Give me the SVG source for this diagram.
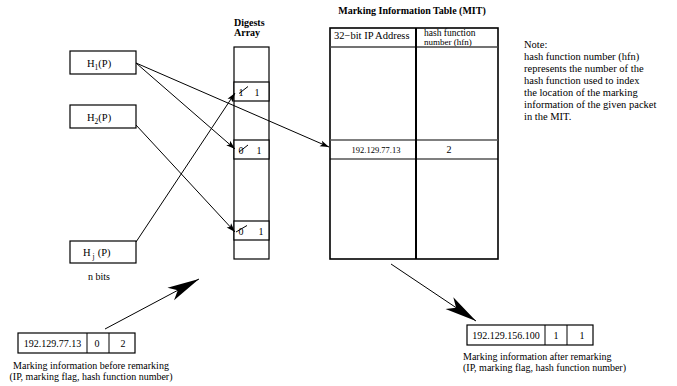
<svg xmlns="http://www.w3.org/2000/svg" width="677" height="386" viewBox="0 0 677 386">
<style>
text{font-family:"Liberation Serif","Times New Roman",serif;fill:#000}
.t{font-size:10.5px}
.s{font-size:10px}
.n{font-size:10.5px}
.b{font-weight:bold;font-size:10px}
.box{fill:#fff;stroke:#000;stroke-width:1.2}
.ln{fill:none;stroke:#000;stroke-width:1}
.mit{fill:#fff;stroke:#000;stroke-width:1.6}
</style>
<defs>
<marker id="sa" viewBox="-10 -4 11 8" refX="0" refY="0" markerWidth="11" markerHeight="8" markerUnits="userSpaceOnUse" orient="auto" overflow="visible">
<path d="M0,0 L-9,-3 L-7,0 L-9,3 Z" fill="#000"/>
</marker>
<marker id="ba" viewBox="-33 -8 34 16" refX="0" refY="0" markerWidth="34" markerHeight="16" markerUnits="userSpaceOnUse" orient="auto" overflow="visible">
<path d="M0,0 L-32,-7 L-24,0 L-32,7 Z" fill="#000"/>
</marker>
</defs>

<g id="h1">
<rect class="box" x="70" y="51" width="66" height="23"/>
<text class="t" x="87" y="67">H<tspan font-size="7.5" dy="3">1</tspan><tspan dy="-3">(P)</tspan></text>
</g>
<g id="h2">
<rect class="box" x="70" y="105" width="66" height="23"/>
<text class="t" x="87" y="121">H<tspan font-size="7.5" dy="3">2</tspan><tspan dy="-3">(P)</tspan></text>
</g>
<g id="hj">
<rect class="box" x="70" y="241" width="66" height="22"/>
<text class="t" x="83" y="256">H<tspan font-size="7.5" dy="3" dx="2">j</tspan><tspan dy="-3" dx="3">(P)</tspan></text>
<text class="s" x="99" y="280" text-anchor="middle">n bits</text>
</g>

<g id="digests">
<text class="b" x="234" y="25.5">Digests</text>
<text class="b" x="234" y="36">Array</text>
<rect class="box" x="234" y="47" width="35" height="212"/>
<rect class="box" x="234" y="82" width="35" height="19"/>
<rect class="box" x="234" y="140" width="35" height="19"/>
<rect class="box" x="234" y="221" width="35" height="19"/>
<text class="s" x="241" y="95.5" text-anchor="middle">1</text>
<line class="ln" x1="239" y1="93.5" x2="248" y2="86.5"/>
<text class="s" x="257" y="95.5" text-anchor="middle">1</text>
<text class="s" x="241" y="153.5" text-anchor="middle">0</text>
<line class="ln" x1="239" y1="152" x2="248" y2="145"/>
<text class="s" x="259" y="153.5" text-anchor="middle">1</text>
<text class="s" x="241" y="234.5" text-anchor="middle">0</text>
<line class="ln" x1="236" y1="232" x2="247" y2="225.5"/>
<text class="s" x="261" y="234.5" text-anchor="middle">1</text>
</g>

<g id="mit">
<text class="b" x="412" y="14" text-anchor="middle">Marking Information Table (MIT)</text>
<rect class="mit" x="330" y="28" width="168" height="231"/>
<line x1="330" y1="47" x2="498" y2="47" stroke="#444" stroke-width="1.5"/>
<line x1="330" y1="140" x2="498" y2="140" stroke="#555" stroke-width="1.5"/>
<line x1="330" y1="159" x2="498" y2="159" stroke="#000" stroke-width="1.2"/>
<line x1="416" y1="28" x2="416" y2="259" stroke="#000" stroke-width="2"/>
<text class="t" x="334" y="38.5">32−bit IP Address</text>
<text x="424" y="36" font-size="9.5">hash function</text>
<text x="424" y="44.5" font-size="9">number (hfn)</text>
<text x="376" y="153" font-size="8.5" text-anchor="middle">192.129.77.13</text>
<text class="s" x="449" y="153" text-anchor="middle">2</text>
</g>

<g id="note">
<text class="n" x="524">
<tspan x="524" y="48">Note:</tspan>
<tspan x="524" y="60">hash function number (hfn)</tspan>
<tspan x="524" y="72">represents the number of the</tspan>
<tspan x="524" y="84">hash function used to index</tspan>
<tspan x="524" y="96">the location of the marking</tspan>
<tspan x="524" y="108">information of the given packet</tspan>
<tspan x="524" y="120">in the MIT.</tspan>
</text>
</g>

<g id="before">
<rect class="box" x="18" y="333" width="117" height="20"/>
<line class="ln" x1="87" y1="333" x2="87" y2="353" stroke-width="1.2"/>
<line class="ln" x1="109" y1="333" x2="109" y2="353" stroke-width="1.2"/>
<text class="s" x="52.5" y="347" text-anchor="middle">192.129.77.13</text>
<text class="s" x="97" y="347" text-anchor="middle">0</text>
<text class="s" x="123" y="347" text-anchor="middle">2</text>
<text class="s" x="91" y="369" text-anchor="middle">Marking information before remarking</text>
<text class="s" x="91" y="380" text-anchor="middle">(IP, marking flag, hash function number)</text>
</g>

<g id="after">
<rect class="box" x="467" y="325" width="126" height="20"/>
<line class="ln" x1="545" y1="325" x2="545" y2="345" stroke-width="1.2"/>
<line class="ln" x1="567" y1="325" x2="567" y2="345" stroke-width="1.2"/>
<text class="s" x="506" y="339" text-anchor="middle">192.129.156.100</text>
<text class="s" x="556" y="339" text-anchor="middle">1</text>
<text class="s" x="582" y="339" text-anchor="middle">1</text>
<text class="s" x="463" y="360">Marking information after remarking</text>
<text class="s" x="463" y="371">(IP, marking flag, hash function number)</text>
</g>

<g id="connectors">
<line class="ln" x1="136" y1="63" x2="329" y2="147" marker-end="url(#sa)"/>
<line class="ln" x1="136" y1="63" x2="235" y2="149" marker-end="url(#sa)"/>
<line class="ln" x1="136" y1="125" x2="235" y2="232" marker-end="url(#sa)"/>
<line class="ln" x1="136" y1="242" x2="235" y2="93" marker-end="url(#sa)"/>
<line class="ln" x1="105" y1="329" x2="199" y2="279" marker-end="url(#ba)"/>
<line class="ln" x1="391" y1="264" x2="476" y2="321" marker-end="url(#ba)"/>
</g>
</svg>
